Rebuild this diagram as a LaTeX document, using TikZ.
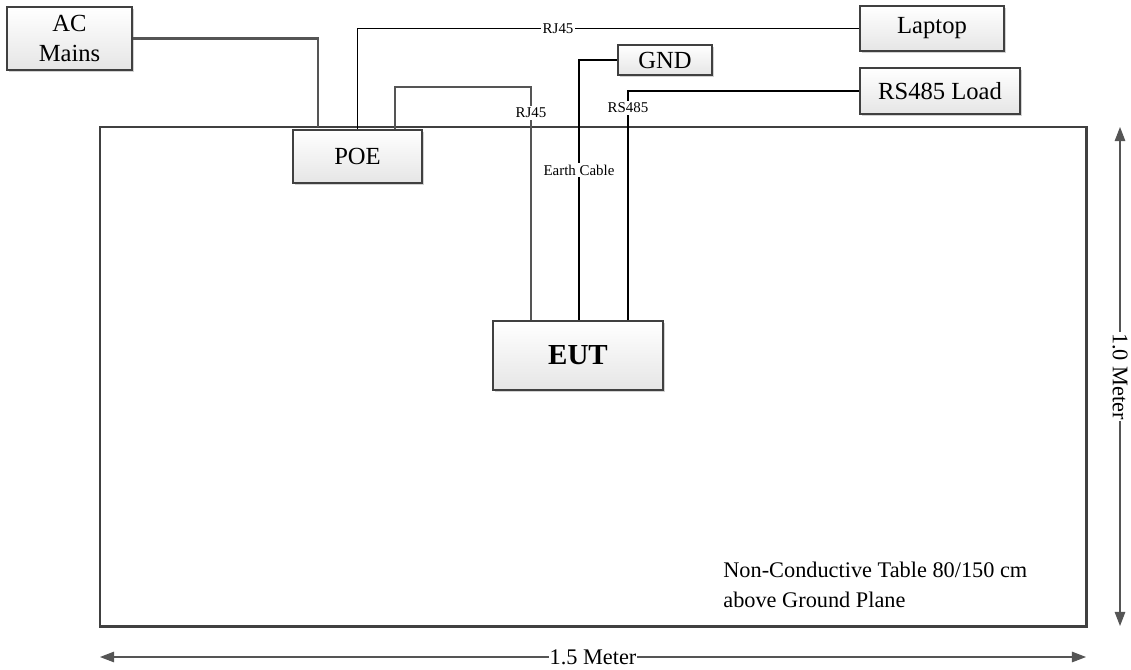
\documentclass[tikz,border=0pt]{standalone}
\usepackage{fontspec}
\setmainfont{Liberation Serif}
\usetikzlibrary{arrows.meta,shadows}
\definecolor{edgegray}{HTML}{404040}
\definecolor{wiregray}{HTML}{555555}
\begin{document}
\begin{tikzpicture}[x=0.02cm,y=-0.02cm,
  unitbox/.style={draw=edgegray,line width=1.2pt,top color=white,bottom color=black!10,
    drop shadow={shadow xshift=1.3pt,shadow yshift=-1.3pt,fill=black!35,opacity=0.5},
    inner sep=0pt,align=center,font=\fontsize{14}{17}\selectfont},
  wire/.style={line width=0.9pt},
  graywire/.style={wiregray,line width=1.2pt},
  tag/.style={fill=white,inner sep=1pt,font=\fontsize{8.5}{10}\selectfont},
  dimline/.style={wiregray,line width=0.6pt,{Triangle[length=8pt,width=6pt]}-{Triangle[length=8pt,width=6pt]}},
  dimtext/.style={fill=white,text=black,inner sep=0.5pt,font=\fontsize{12.7}{15}\selectfont}]
\useasboundingbox (0,0) rectangle (1131,669);

\draw[edgegray,line width=1.7pt,fill=white,
  drop shadow={shadow xshift=1.3pt,shadow yshift=-1.3pt,fill=black!35,opacity=0.5}]
  (100,127) rectangle (1086,626);

\node[unitbox,minimum width=2.5cm,minimum height=1.26cm] (ac) at (69.5,38.5) {AC\\Mains};
\node[unitbox,minimum width=2.88cm,minimum height=0.9cm] (laptop) at (932,28.5) {Laptop};
\node[unitbox,minimum width=1.88cm,minimum height=0.6cm] (gnd) at (665,60) {GND};
\node[unitbox,minimum width=3.2cm,minimum height=0.92cm] (rsload) at (940,91) {RS485 Load};

\coordinate (acdrop) at (318,127);
\coordinate (poelan) at (395,130);
\coordinate (eutlan) at (531,321);
\coordinate (eutgnd) at (579,321);
\coordinate (eutrs) at (628,321);

\draw[graywire] (ac.east) -| (acdrop);
\draw[graywire] (poelan) -- ++(0,-43) -| (eutlan);
\draw[wire] (gnd.west) -| (eutgnd);
\draw[wire] (rsload.west) -| (eutrs);

\node[unitbox,minimum width=2.58cm,minimum height=1.06cm] (poe) at (357.5,156.5) {POE};
\node[unitbox,minimum width=3.4cm,minimum height=1.38cm,
  font=\fontsize{16.5}{20}\selectfont\bfseries] (eut) at (578,355.5) {EUT};
\draw[wire] (poe.north) |- node[tag,pos=0.7] (lantag) {RJ45} (laptop.west);

\node[tag] (poetag) at (531,113) {RJ45};
\node[tag] (rstag) at (628,108) {RS485};
\node[tag] (earthtag) at (579,170) {Earth Cable};

\node[anchor=west,align=left,inner sep=0pt,font=\fontsize{12.7}{17}\selectfont] (tablenote)
  at (723,585) {Non-Conductive Table 80/150 cm\\above Ground Plane};

\coordinate (hleft) at (100,657);
\coordinate (hright) at (1086,657);
\coordinate (vtop) at (1120,127);
\coordinate (vbot) at (1120,626);
\draw[dimline] (hleft) -- node[dimtext] (hdim) {1.5 Meter} (hright);
\draw[dimline] (vtop) -- node[dimtext,rotate=-90] (vdim) {1.0 Meter} (vbot);
\end{tikzpicture}
\end{document}
